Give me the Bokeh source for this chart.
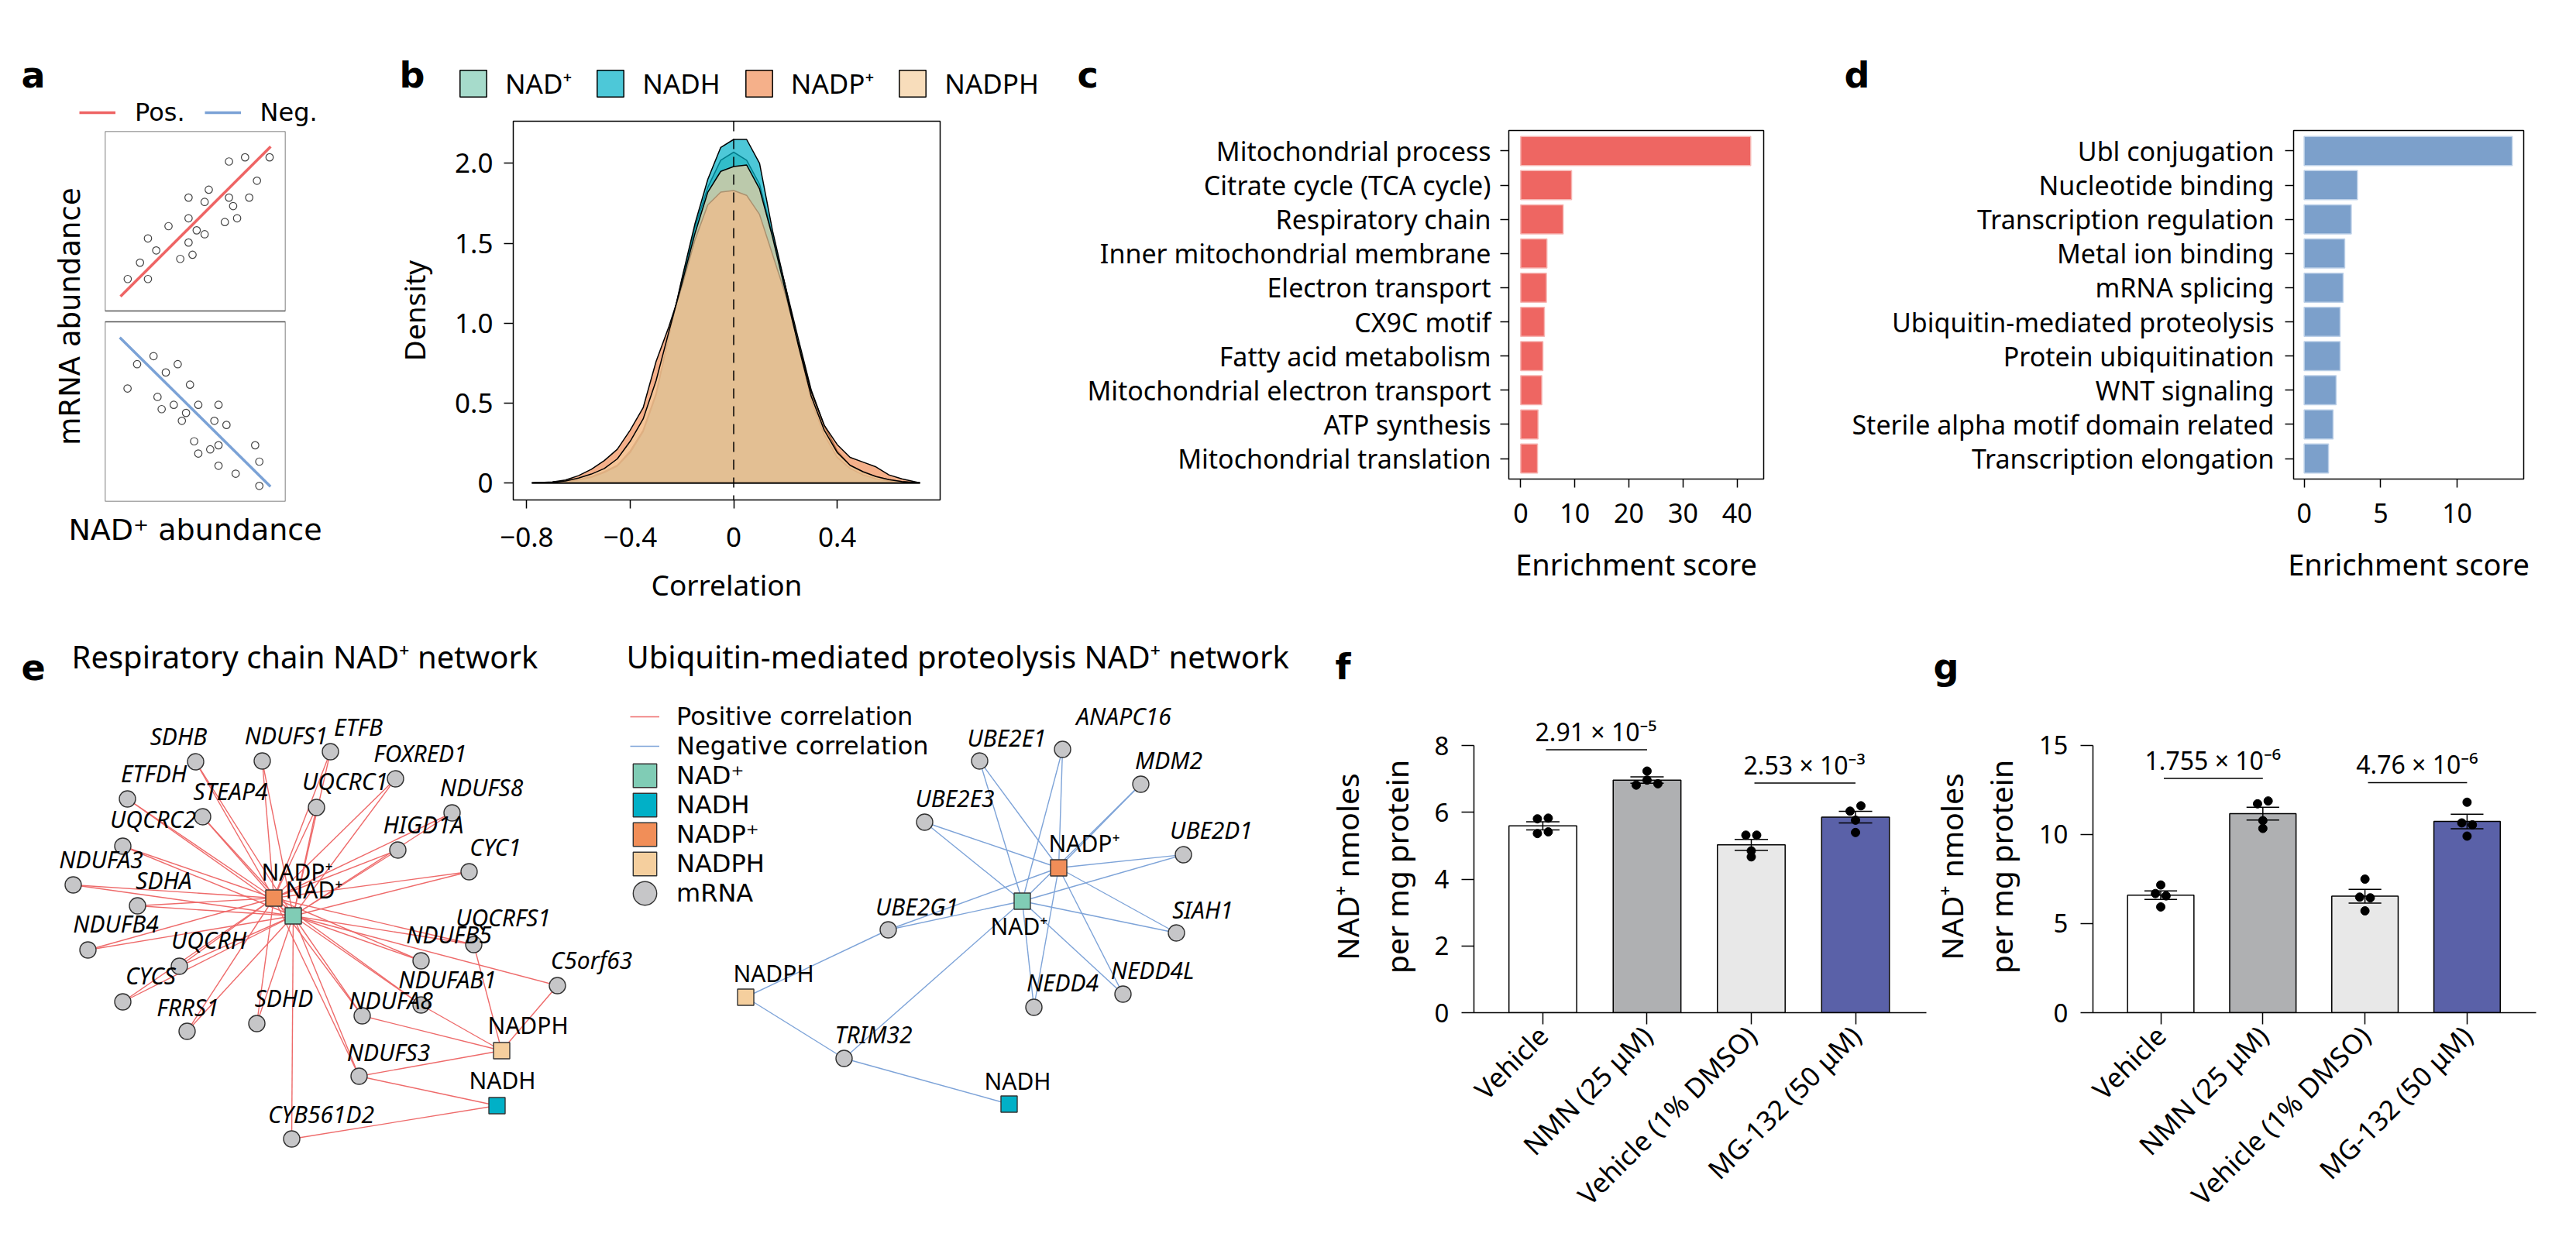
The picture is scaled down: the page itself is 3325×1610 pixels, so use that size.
import math
from bokeh.plotting import figure
from bokeh.models import Range1d, FixedTicker, Legend, LegendItem, Label, Span
from bokeh.layouts import row, column
from bokeh.embed import file_html
from bokeh.resources import INLINE
from bokeh.core.properties import value

SANS = "Noto Sans"
WIDE = "DejaVu Sans"
LETTER = "DejaVu Sans"

# ======================= DATA =======================
# --- panel a: schematic scatter (arbitrary units 0-10) ---
a_pos_x = [1.26, 2.38, 1.94, 2.38, 2.84, 3.52, 4.17, 4.63, 4.85, 4.63, 4.63, 5.08,
           5.52, 5.52, 5.75, 6.64, 6.87, 7.10, 7.32, 7.99, 8.42, 6.87, 7.76, 9.12]
a_pos_y = [1.78, 1.78, 2.69, 4.04, 3.37, 4.72, 2.90, 3.81, 3.13, 5.16, 6.31, 4.49,
           4.27, 6.07, 6.75, 4.95, 6.31, 5.84, 5.16, 6.31, 7.25, 8.32, 8.55, 8.55]
a_pos_fit_x = [0.86, 9.18]
a_pos_fit_y = [0.81, 9.15]
a_neg_x = [1.25, 1.78, 2.69, 3.37, 4.03, 2.91, 3.14, 3.81, 4.49, 4.26, 4.71, 5.17,
           6.29, 6.06, 6.73, 4.94, 5.17, 5.83, 6.29, 6.29, 7.24, 8.32, 8.55, 8.55]
a_neg_y = [6.29, 7.64, 8.09, 7.18, 7.64, 5.82, 5.14, 5.38, 4.93, 4.49, 6.50, 5.38,
           5.38, 4.49, 4.26, 3.35, 2.67, 2.90, 3.13, 1.99, 1.55, 3.13, 2.22, 0.87]
a_neg_fit_x = [0.82, 9.17]
a_neg_fit_y = [9.13, 0.83]

# --- panel b: correlation densities ---
corr_x = [-0.78, -0.7, -0.65, -0.6, -0.55, -0.5, -0.45, -0.4, -0.35, -0.3, -0.25, -0.2,
          -0.15, -0.1, -0.05, 0.0, 0.05, 0.1, 0.15, 0.2, 0.25, 0.3, 0.35, 0.4, 0.45,
          0.5, 0.55, 0.6, 0.65, 0.72]
dens_nad = [0.0, 0.004, 0.01, 0.02, 0.04, 0.07, 0.11, 0.2, 0.33, 0.56, 0.92, 1.27,
            1.6, 1.85, 2.02, 2.07, 2.02, 1.87, 1.55, 1.23, 0.9, 0.58, 0.36, 0.2, 0.11,
            0.065, 0.04, 0.02, 0.008, 0.0]
dens_nadh = [0.0, 0.003, 0.008, 0.018, 0.035, 0.065, 0.105, 0.19, 0.32, 0.55, 0.92, 1.28,
             1.62, 1.9, 2.1, 2.15, 2.15, 2.0, 1.58, 1.23, 0.86, 0.51, 0.3, 0.16, 0.09,
             0.05, 0.025, 0.012, 0.006, 0.0]
dens_nadp = [0.0, 0.006, 0.018, 0.045, 0.085, 0.14, 0.21, 0.33, 0.47, 0.76, 0.98, 1.23,
             1.52, 1.74, 1.82, 1.83, 1.8, 1.68, 1.43, 1.18, 0.87, 0.57, 0.36, 0.24, 0.16,
             0.13, 0.1, 0.05, 0.025, 0.0]
dens_nadph = [0.0, 0.004, 0.012, 0.03, 0.055, 0.09, 0.15, 0.26, 0.4, 0.64, 0.95, 1.25,
              1.56, 1.82, 1.95, 1.98, 1.99, 1.84, 1.54, 1.2, 0.86, 0.54, 0.33, 0.19, 0.11,
              0.07, 0.04, 0.02, 0.008, 0.0]
b_xticks = [-0.8, -0.4, 0, 0.4]
b_xlabels = ["\u22120.8", "\u22120.4", "0", "0.4"]
b_yticks = [0, 0.5, 1, 1.5, 2]
b_ylabels = ["0", "0.5", "1.0", "1.5", "2.0"]

# --- panel c ---
c_terms = ["Mitochondrial process", "Citrate cycle (TCA cycle)", "Respiratory chain",
           "Inner mitochondrial membrane", "Electron transport", "CX9C motif",
           "Fatty acid metabolism", "Mitochondrial electron transport", "ATP synthesis",
           "Mitochondrial translation"]
c_scores = [42.5, 9.4, 7.85, 4.84, 4.75, 4.38, 4.1, 3.9, 3.2, 3.1]
c_ticks = [0, 10, 20, 30, 40]

# --- panel d ---
d_terms = ["Ubl conjugation", "Nucleotide binding", "Transcription regulation",
           "Metal ion binding", "mRNA splicing", "Ubiquitin-mediated proteolysis",
           "Protein ubiquitination", "WNT signaling", "Sterile alpha motif domain related",
           "Transcription elongation"]
d_scores = [13.6, 3.48, 3.08, 2.65, 2.55, 2.35, 2.35, 2.09, 1.89, 1.59]
d_ticks = [0, 5, 10]

# --- panel e: networks (layout coordinates) ---
met_names = ["NAD\u207a", "NADH", "NADP\u207a", "NADPH"]
net1_met_x = [386, 649, 361, 655]
net1_met_y = [1190, 1435, 1167, 1364]
net1_met_lx = [413, 656, 391, 689]
net1_met_ly = [1156, 1402, 1133, 1331]
net1_genes = ["SDHB", "NDUFS1", "ETFB", "FOXRED1", "ETFDH", "STEAP4", "UQCRC1", "NDUFS8",
              "UQCRC2", "HIGD1A", "CYC1", "NDUFA3", "SDHA", "NDUFB4", "UQCRH", "UQCRFS1",
              "NDUFB5", "C5orf63", "CYCS", "FRRS1", "SDHD", "NDUFAB1", "NDUFA8", "NDUFS3",
              "CYB561D2"]
net1_gx = [260, 346, 434, 518, 172, 269, 416, 591, 166, 521, 613, 102, 185, 121, 239, 619,
           551, 727, 166, 249, 339, 551, 475, 471, 384]
net1_gy = [991, 990, 978, 1013, 1039, 1062, 1050, 1057, 1100, 1105, 1133, 1150, 1177, 1234,
           1255, 1227, 1248, 1280, 1301, 1339, 1329, 1305, 1319, 1397, 1478]
net1_lx = [238, 377, 470, 550, 206, 305, 453, 629, 205, 554, 647, 138, 219, 157, 277, 657,
           587, 771, 202, 250, 374, 585, 512, 509, 422]
net1_ly = [958, 957, 946, 980, 1006, 1029, 1016, 1024, 1065, 1072, 1101, 1117, 1144, 1200,
           1221, 1192, 1214, 1247, 1267, 1308, 1296, 1272, 1299, 1366, 1446]
net1_edges = ([(g, "NAD\u207a") for g in net1_genes] +
              [(g, "NADP\u207a") for g in net1_genes if g not in ("C5orf63", "CYB561D2")] +
              [("C5orf63", "NADPH"), ("UQCRFS1", "NADPH"), ("NDUFAB1", "NADPH"),
               ("NDUFA8", "NADPH"), ("NDUFS3", "NADPH"), ("NDUFS3", "NADH"),
               ("CYB561D2", "NADH")])

net2_met_x = [1327, 1310, 1374, 970]
net2_met_y = [1171, 1433, 1128, 1295]
net2_met_lx = [1323, 1321, 1407, 1006]
net2_met_ly = [1203, 1403, 1096, 1264]
net2_genes = ["UBE2E1", "ANAPC16", "MDM2", "UBE2E3", "UBE2D1", "UBE2G1", "SIAH1", "NEDD4L",
              "NEDD4", "TRIM32"]
net2_gx = [1272, 1379, 1480, 1201, 1535, 1154, 1526, 1457, 1342, 1097]
net2_gy = [990, 975, 1020, 1069, 1111, 1208, 1212, 1291, 1308, 1374]
net2_lx = [1307, 1458, 1516, 1240, 1571, 1191, 1560, 1495, 1379, 1135]
net2_ly = [960, 932, 989, 1038, 1079, 1178, 1182, 1260, 1276, 1343]
net2_edges = ([(g, "NAD\u207a") for g in net2_genes] +
              [(g, "NADP\u207a") for g in net2_genes if g != "TRIM32"] +
              [("UBE2G1", "NADPH"), ("TRIM32", "NADPH"), ("TRIM32", "NADH")])

# --- panels f, g ---
groups = ["Vehicle", "NMN (25 \u03bcM)", "Vehicle (1% DMSO)", "MG-132 (50 \u03bcM)"]
f_mean = [5.6, 6.97, 5.03, 5.86]
f_sem = [0.12, 0.095, 0.165, 0.175]
f_pts = [[5.81, 5.83, 5.37, 5.42], [7.24, 6.82, 6.97, 6.86],
         [5.32, 5.32, 4.85, 4.67], [6.04, 6.20, 5.77, 5.40]]
f_pt_slot = [[-1, 1, -1, 1], [0, -2, 0, 2], [-1, 1, 0, 0], [-1, 1, 0, 0]]
f_sig = [(0, 1, 7.88, "2.91 \u00d7 10\u207b\u2075"), (2, 3, 6.88, "2.53 \u00d7 10\u207b\u00b3")]
f_yticks = [0, 2, 4, 6, 8]
g_mean = [6.59, 11.16, 6.53, 10.72]
g_sem = [0.24, 0.36, 0.385, 0.405]
g_pts = [[7.16, 6.68, 6.55, 5.93], [11.71, 11.87, 10.77, 10.33],
         [7.49, 6.48, 6.44, 5.71], [11.8, 10.64, 10.53, 9.9]]
g_pt_slot = [[0, -1, 1, 0], [-1, 1, 0, 0], [0, -1, 1, 0], [0, -1, 1, 0]]
g_sig = [(0, 1, 13.14, "1.755 \u00d7 10\u207b\u2076"), (2, 3, 12.9, "4.76 \u00d7 10\u207b\u2076")]
g_yticks = [0, 5, 10, 15]
bar_colors = ["#FFFFFF", "#AFB0B2", "#E8E8E8", "#5A61A8"]


# ======================= HELPERS =======================
def make_fig(w, h, xr, yr, left, right, top, bottom, **kw):
    p = figure(width=w, height=h, x_range=xr, y_range=yr, output_backend="svg",
               toolbar_location=None, min_border_left=left, min_border_right=right,
               min_border_top=top, min_border_bottom=bottom, **kw)
    try:
        p.frame_align = False
    except Exception:
        pass
    p.grid.visible = False
    p.outline_line_color = None
    return p


def header(w, h, text, lx, ly):
    """Strip above a panel that carries its letter (and legend); frame = whole canvas."""
    p = make_fig(w, h, Range1d(0, w), Range1d(h, 0), 0, 0, 0, 0,
                 x_axis_type=None, y_axis_type=None)
    p.add_layout(Label(x=lx, y=ly, text=text, text_font=LETTER, text_font_style="bold",
                       text_font_size="46px", text_baseline="alphabetic",
                       text_color="black"))
    return p


def style_axis(ax, size, tick_out=10, standoff=8, label_size=36, label_standoff=10,
               line=True):
    ax.major_label_text_font = SANS
    ax.major_label_text_font_size = f"{size}px"
    ax.major_label_text_color = "black"
    ax.major_tick_out = tick_out
    ax.major_tick_in = 0
    ax.major_tick_line_color = "black"
    ax.major_tick_line_width = 1.5
    ax.minor_tick_line_color = None
    ax.major_label_standoff = standoff
    ax.axis_line_color = "black" if line else None
    ax.axis_line_width = 1.5
    ax.axis_label_text_font = SANS
    ax.axis_label_text_font_style = "normal"
    ax.axis_label_text_font_size = f"{label_size}px"
    ax.axis_label_text_color = "black"
    ax.axis_label_standoff = label_standoff


def plain_legend(items, **kw):
    return Legend(items=items, padding=0, margin=0, border_line_color=None,
                  background_fill_alpha=0, inactive_fill_alpha=0,
                  label_text_color="black", **kw)


# ======================= PANEL A =======================
ha = header(492, 167, "a", 27, 96)
# hidden copies of the two fit lines give the header legend its glyphs
lp = ha.line(a_pos_fit_x, a_pos_fit_y, line_color="#EE6464", line_width=3.5, visible=False)
ln = ha.line(a_neg_fit_x, a_neg_fit_y, line_color="#7BA2D6", line_width=3.5, visible=False)
ha.add_layout(plain_legend([LegendItem(label="Pos.", renderers=[lp]),
                            LegendItem(label="Neg.", renderers=[ln])],
                           orientation="horizontal", location=(102, 3), glyph_width=47,
                           glyph_height=30, label_standoff=25, spacing=25,
                           label_text_font=WIDE, label_text_font_size="32px",
                           label_height=30))

pa = make_fig(492, 625, Range1d(0, 10), Range1d(0, 20.6), 135, 124, 2, 145)
pa.extra_y_ranges = {"upper": Range1d(-10.6, 10)}
pa.quad(left=[0], right=[10], bottom=[0], top=[10], fill_color=None,
        line_color="#555555", line_width=1.5)
pa.quad(left=[0], right=[10], bottom=[0], top=[10], fill_color=None,
        line_color="#555555", line_width=1.5, y_range_name="upper")
pa.line(a_pos_fit_x, a_pos_fit_y, line_color="#EE6464", line_width=3.5,
        y_range_name="upper")
pa.line(a_neg_fit_x, a_neg_fit_y, line_color="#7BA2D6", line_width=3.5)
pa.scatter(a_pos_x, a_pos_y, size=9.5, fill_color=None, line_color="#444444",
           line_width=1.2, y_range_name="upper")
pa.scatter(a_neg_x, a_neg_y, size=9.5, fill_color=None, line_color="#444444",
           line_width=1.2)
for ax in (pa.xaxis[0], pa.yaxis[0]):
    ax.ticker = FixedTicker(ticks=[])
    ax.axis_line_color = None
    ax.major_tick_line_color = None
    ax.major_label_standoff = 0
    ax.axis_label_text_font = WIDE
    ax.axis_label_text_font_style = "normal"
    ax.axis_label_text_color = "black"
pa.xaxis.axis_label = "NAD\u207a abundance"
pa.xaxis.axis_label_text_font_size = "38px"
pa.xaxis.axis_label_standoff = 14
pa.yaxis.axis_label = "mRNA abundance"
pa.yaxis.axis_label_text_font_size = "37px"
pa.yaxis.axis_label_standoff = 24

# ======================= PANEL B =======================
b_series = [("NAD\u207a", dens_nad, "#80CCB5"), ("NADH", dens_nadh, "#01B0C7"),
            ("NADP\u207a", dens_nadp, "#F18E58"), ("NADPH", dens_nadph, "#F5CF9E")]
hb = header(880, 142, "b", 23, 96)
hb_items = []
for name, dens, col in b_series:
    r = hb.patch(corr_x, dens, fill_color=col, fill_alpha=0.7, line_color="black",
                 line_width=1.5, visible=False)
    hb_items.append(LegendItem(label=name, renderers=[r]))
hb.add_layout(plain_legend(hb_items, orientation="horizontal", location=(97, 11),
                           glyph_width=43, glyph_height=43, label_standoff=20,
                           spacing=28, label_text_font=SANS, label_text_font_size="35px",
                           label_height=30))

pb = make_fig(880, 650, Range1d(-0.852, 0.798), Range1d(-0.107, 2.264), 170, 159, 14, 147)
pb.outline_line_color = "black"
pb.outline_line_width = 1.5
for name, dens, col in b_series:
    pb.patch(corr_x, dens, fill_color=col, fill_alpha=0.7, line_color="black",
             line_width=1.5)
pb.add_layout(Span(location=0, dimension="height", line_color="black", line_width=1.5,
                   line_dash="13 10"))
style_axis(pb.xaxis[0], 35, tick_out=11, standoff=24, label_size=37, label_standoff=20,
           line=False)
style_axis(pb.yaxis[0], 35, tick_out=12, standoff=14, label_size=37, label_standoff=24,
           line=False)
pb.xaxis.ticker = FixedTicker(ticks=b_xticks)
pb.xaxis.major_label_overrides = dict(zip(b_xticks, b_xlabels))
pb.yaxis.ticker = FixedTicker(ticks=b_yticks)
pb.yaxis.major_label_overrides = dict(zip(b_yticks, b_ylabels))
pb.xaxis.axis_label = "Correlation"
pb.yaxis.axis_label = "Density"


# ======================= PANELS C, D =======================
def enrich_panel(w, terms, scores, ticks, xr, left, right, color, edge, ystand):
    p = make_fig(w, 642, xr, Range1d(9.6, -0.6), left, right, 18, 174)
    p.outline_line_color = "black"
    p.outline_line_width = 1.5
    p.hbar(y=list(range(len(terms))), left=0, right=scores, height=0.85,
           fill_color=color, line_color=edge, line_width=1.5)
    style_axis(p.xaxis[0], 34, tick_out=11, standoff=20, label_size=38, label_standoff=24,
               line=False)
    style_axis(p.yaxis[0], 34, tick_out=11, standoff=ystand, line=False)
    p.xaxis.ticker = FixedTicker(ticks=ticks)
    p.yaxis.ticker = FixedTicker(ticks=list(range(len(terms))))
    p.yaxis.major_label_overrides = {i: t for i, t in enumerate(terms)}
    p.xaxis.axis_label = "Enrichment score"
    return p


hc = header(990, 150, "c", 18, 96)
pc = enrich_panel(990, c_terms, c_scores, c_ticks, Range1d(-2.2, 44.9), 575, 86,
                  "#EE6662", "#F6B4B1", 12)
hd = header(947, 150, "d", 18, 96)
pd = enrich_panel(947, d_terms, d_scores, d_ticks, Range1d(-0.69, 14.35), 598, 52,
                  "#7CA0CB", "#BCD0E8", 14)

# ======================= PANEL E =======================
pe = make_fig(1692, 802, Range1d(8, 1700), Range1d(1602, 800), 0, 0, 0, 0,
              x_axis_type=None, y_axis_type=None)


def edge_lines(genes, gx, gy, mx, my, edges):
    pos = {g: (x, y) for g, x, y in zip(genes, gx, gy)}
    pos.update({m: (x, y) for m, x, y in zip(met_names, mx, my)})
    xs = [[pos[a][0], pos[b][0]] for a, b in edges]
    ys = [[pos[a][1], pos[b][1]] for a, b in edges]
    return xs, ys


xs1, ys1 = edge_lines(net1_genes, net1_gx, net1_gy, net1_met_x, net1_met_y, net1_edges)
xs2, ys2 = edge_lines(net2_genes, net2_gx, net2_gy, net2_met_x, net2_met_y, net2_edges)
r_red = pe.multi_line(xs1, ys1, line_color="#EE6A6A", line_width=1.4)
r_blue = pe.multi_line(xs2, ys2, line_color="#7DA3D8", line_width=1.4)
r_gene = pe.ellipse(net1_gx + net2_gx, net1_gy + net2_gy, width=21, height=21,
                    width_units="screen", height_units="screen", fill_color="#C6C6C8",
                    line_color="#333333", line_width=1.4)
met_colors = ["#80CCB5", "#01B0C7", "#F18E58", "#F5CF9E"]
met_r = []
for i, col in enumerate(met_colors):
    r = pe.rect([net1_met_x[i], net2_met_x[i]], [net1_met_y[i], net2_met_y[i]],
                width=21, height=21, width_units="screen", height_units="screen",
                fill_color=col, line_color="#333333", line_width=1.4)
    met_r.append(r)
pe.text(net1_lx + net2_lx, net1_ly + net2_ly, text=net1_genes + net2_genes,
        text_font=value(SANS), text_font_style="italic", text_font_size="30px",
        text_align="center", text_baseline="middle", text_color="black")
pe.text(net1_met_lx + net2_met_lx, net1_met_ly + net2_met_ly, text=met_names + met_names,
        text_font=value(SANS), text_font_size="30px", text_align="center",
        text_baseline="middle", text_color="black")
for tx, ttl in [(100, "Respiratory chain NAD\u207a network"),
                (816, "Ubiquitin-mediated proteolysis NAD\u207a network")]:
    pe.add_layout(Label(x=tx, y=855, text=ttl, text_font=SANS, text_font_size="40px",
                        text_baseline="middle", text_color="black"))
pe.add_layout(Label(x=35, y=868, text="e", text_font=LETTER, text_font_style="bold",
                    text_font_size="46px", text_baseline="alphabetic", text_color="black"))
pe.add_layout(plain_legend(
    [LegendItem(label="Positive correlation", renderers=[r_red]),
     LegendItem(label="Negative correlation", renderers=[r_blue])] +
    [LegendItem(label=n, renderers=[r]) for n, r in zip(met_names, met_r)] +
    [LegendItem(label="mRNA", renderers=[r_gene])],
    orientation="vertical", location=(813, 422), glyph_width=38, glyph_height=38,
    label_standoff=22, spacing=0, label_text_font=WIDE, label_text_font_size="32px",
    label_height=20))


# ======================= PANELS F, G =======================
def nad_panel(w, xr, yr, ytop, left, right, yticks, means, sems, pts, slots, sigs):
    p = make_fig(w, 682, xr, yr, left, right, 18, 287)
    xs = list(range(len(groups)))
    p.vbar(x=xs, top=means, width=0.65, fill_color=bar_colors, line_color="black",
           line_width=1.5)
    lo = [m - s for m, s in zip(means, sems)]
    hi = [m + s for m, s in zip(means, sems)]
    p.segment(x0=xs, y0=lo, x1=xs, y1=hi, line_color="black", line_width=1.5)
    p.segment(x0=[x - 0.16 for x in xs], y0=hi, x1=[x + 0.16 for x in xs], y1=hi,
              line_color="black", line_width=1.5)
    p.segment(x0=[x - 0.16 for x in xs], y0=lo, x1=[x + 0.16 for x in xs], y1=lo,
              line_color="black", line_width=1.5)
    px, py = [], []
    for i, (vals, sl) in enumerate(zip(pts, slots)):
        for v, s in zip(vals, sl):
            px.append(i + 0.052 * s)
            py.append(v)
    p.scatter(px, py, size=11, color="black")
    for i, j, yv, txt in sigs:
        p.segment(x0=[i + 0.03], y0=[yv], x1=[j], y1=[yv], line_color="black",
                  line_width=1.5)
        p.add_layout(Label(x=(i + j) / 2 + 0.01, y=yv, y_offset=2, text=txt,
                           text_font=SANS, text_font_size="32px", text_align="center",
                           text_baseline="bottom", text_color="black"))
    style_axis(p.xaxis[0], 35, tick_out=15, standoff=8)
    style_axis(p.yaxis[0], 33, tick_out=16, standoff=16, label_size=39, label_standoff=20)
    p.xaxis.ticker = FixedTicker(ticks=xs)
    p.xaxis.major_label_overrides = dict(zip(xs, groups))
    p.xaxis.major_label_orientation = math.pi / 4
    p.yaxis.ticker = FixedTicker(ticks=yticks)
    p.yaxis.bounds = (0, ytop)
    p.yaxis.axis_label = "NAD\u207a nmoles\nper mg protein"
    return p


hf = header(797, 120, "f", 31, 68)
pf = nad_panel(797, Range1d(-0.661, 3.68), Range1d(0, 8.75), 8, 210, 3, f_yticks,
               f_mean, f_sem, f_pts, f_pt_slot, f_sig)
hg = header(820, 120, "g", 6, 68)
pg = nad_panel(820, Range1d(-0.664, 3.676), Range1d(0, 16.37), 15, 199, 36, g_yticks,
               g_mean, g_sem, g_pts, g_pt_slot, g_sig)

layout = column(row(column(ha, pa), column(hb, pb), column(hc, pc), column(hd, pd)),
                row(column(pe), column(hf, pf), column(hg, pg)))
open("out.html", "w").write(file_html(layout, INLINE))
